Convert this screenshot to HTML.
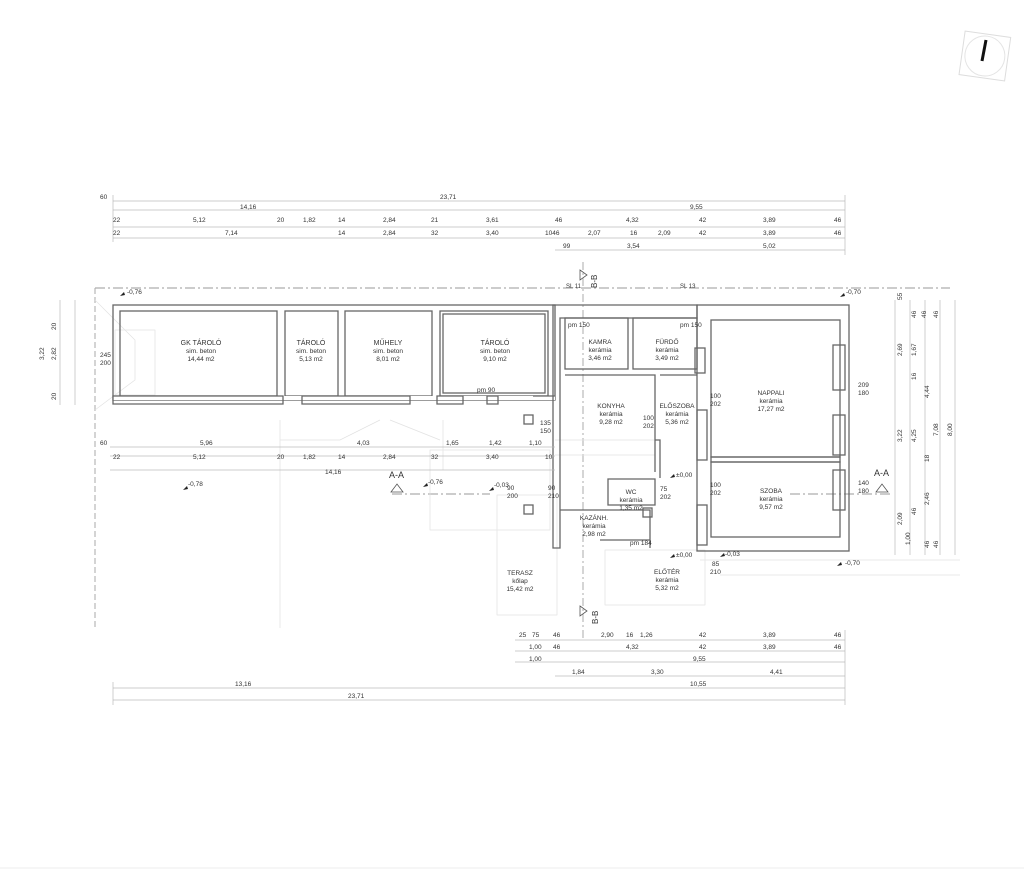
<!DOCTYPE html>
<html><head><meta charset="utf-8"><style>
html,body{margin:0;padding:0;background:#fff}
svg{display:block}
text{font-family:"Liberation Sans",sans-serif;fill:#333;font-size:6.5px}
.c{text-anchor:middle}
.dim{stroke:#bbb;stroke-width:.7}
.w{fill:none;stroke:#666;stroke-width:1.3}
.f{fill:none;stroke:#e2e2e2;stroke-width:.7}
.dd{stroke:#777;stroke-width:.8;stroke-dasharray:10 3 2 3;fill:none}
</style></head><body>
<svg width="1024" height="871" viewBox="0 0 1024 871" xmlns="http://www.w3.org/2000/svg">
<rect width="1024" height="871" fill="#fff"/>
<line x1="0" y1="868" x2="1024" y2="868" stroke="#eee"/>
<!-- north -->
<g transform="rotate(8 985 55)"><rect x="962" y="34" width="46" height="44" fill="none" stroke="#ddd"/><circle cx="985" cy="56" r="20" fill="none" stroke="#e4e4e4"/></g>
<line x1="986" y1="40" x2="982" y2="61" stroke="#111" stroke-width="3"/>

<!-- top dims -->
<g class="dim">
<line x1="113" y1="201" x2="845" y2="201"/><line x1="113" y1="210" x2="845" y2="210"/>
<line x1="113" y1="227" x2="845" y2="227"/><line x1="113" y1="238" x2="845" y2="238"/>
<line x1="555" y1="250" x2="845" y2="250"/>
<line x1="845" y1="195" x2="845" y2="255"/><line x1="113" y1="195" x2="113" y2="242"/>
</g>
<text x="100" y="199">60</text><text x="440" y="199">23,71</text>
<text x="240" y="209">14,16</text><text x="690" y="209">9,55</text>
<g>
<text x="113" y="222">22</text><text x="193" y="222">5,12</text><text x="277" y="222">20</text><text x="303" y="222">1,82</text><text x="338" y="222">14</text><text x="383" y="222">2,84</text><text x="431" y="222">21</text><text x="486" y="222">3,61</text><text x="555" y="222">46</text><text x="626" y="222">4,32</text><text x="699" y="222">42</text><text x="763" y="222">3,89</text><text x="834" y="222">46</text>
<text x="113" y="235">22</text><text x="225" y="235">7,14</text><text x="338" y="235">14</text><text x="383" y="235">2,84</text><text x="431" y="235">32</text><text x="486" y="235">3,40</text><text x="545" y="235">1046</text><text x="588" y="235">2,07</text><text x="630" y="235">16</text><text x="658" y="235">2,09</text><text x="699" y="235">42</text><text x="763" y="235">3,89</text><text x="834" y="235">46</text>
<text x="563" y="248">99</text><text x="627" y="248">3,54</text><text x="763" y="248">5,02</text>
</g>

<!-- site line -->
<path class="dd" d="M95 288H950"/>
<path d="M95 288V628" stroke="#aaa" stroke-width="1" stroke-dasharray="6 3"/>
<text x="127" y="294">-0,76</text><text x="846" y="294">-0,70</text>
<path d="M120 296l4-4 1 3z M840 297l4-4 1 3z M183 490l4-4 1 3z M423 487l4-4 1 3z M489 491l4-4 1 3z M670 478l4-4 1 3z M670 558l4-4 1 3z M720 557l4-4 1 3z M837 566l4-4 1 3z" fill="#222"/>

<!-- section markers -->
<text x="580" y="285" style="font-size:8px" transform="rotate(-90 590 278)">B-B</text>
<path d="M580 270l7 5-7 5z" fill="none" stroke="#555" stroke-width=".8"/>
<path d="M583 262V640" stroke="#888" stroke-width=".7" stroke-dasharray="8 3 2 3"/>
<path d="M580 606l7 5-7 5z" fill="none" stroke="#555" stroke-width=".8"/>
<text x="580" y="618" style="font-size:8px" transform="rotate(-90 592 612)">B-B</text>
<text x="389" y="478" style="font-size:9px">A-A</text><path d="M391 492h12l-6-8z" fill="none" stroke="#555" stroke-width=".8"/>
<text x="874" y="476" style="font-size:9px">A-A</text><path d="M876 492h12l-6-8z" fill="none" stroke="#555" stroke-width=".8"/>
<path class="dd" d="M392 494H490 M790 494H890" stroke="#999"/>
<text x="566" y="288" style="font-size:6px">SL 11</text><text x="680" y="288" style="font-size:6px">SL 13</text>

<!-- faint lines -->
<g class="f">
<path d="M280 420V628 M443 420V470"/><rect x="430" y="450" width="120" height="80"/>
<rect x="497" y="495" width="60" height="120"/><rect x="605" y="550" width="100" height="55"/>
<path d="M95 300L135 340V380L95 410 M280 440L340 440L380 420 M390 420L440 440" />
<rect x="115" y="330" width="40" height="65"/>
<path d="M555 440H655 M555 455H655 M700 560H960 M720 575H960"/>
</g>

<!-- storage block walls -->
<g class="w">
<rect x="113" y="305" width="442" height="95"/>
<rect x="120" y="311" width="157" height="85"/>
<rect x="285" y="311" width="53" height="85"/>
<rect x="345" y="311" width="87" height="85"/>
<rect x="440" y="311" width="108" height="85"/>
<rect x="443" y="314" width="102" height="79"/>
</g>
<rect x="113" y="396" width="442" height="4" fill="#fff"/>
<g class="w">
<path d="M113 396H283V404H113Z M302 396H410V404H302Z M437 396H463V404H437Z M487 396H498V404H487Z M533 396H555"/>
</g>

<!-- house -->
<g class="w">
<path d="M553 305H697V318H560V548H553Z"/>
<rect x="565" y="318" width="63" height="51"/>
<rect x="633" y="318" width="64" height="51"/>
<path d="M565 375H655V472 M660 375H697 M655 440H660V478 M608 479H655V505H608Z M560 510H650V548 M600 540H650"/>
<rect x="697" y="305" width="152" height="246"/>
<rect x="711" y="320" width="129" height="137"/>
<rect x="711" y="462" width="129" height="75"/>
<path d="M711 457H840V462H711Z"/>
<rect x="695" y="348" width="10" height="25"/><rect x="697" y="410" width="10" height="50"/><rect x="697" y="505" width="10" height="40"/>
<rect x="833" y="345" width="12" height="45"/><rect x="833" y="415" width="12" height="40"/><rect x="833" y="470" width="12" height="40"/>
<rect x="643" y="508" width="9" height="9"/>
<rect x="524" y="415" width="9" height="9"/><rect x="524" y="505" width="9" height="9"/>
</g>

<!-- room labels -->
<g class="c">
<text x="201" y="345" style="font-size:7px">GK TÁROLÓ</text><text x="201" y="353">sim. beton</text><text x="201" y="361">14,44 m2</text>
<text x="311" y="345" style="font-size:7px">TÁROLÓ</text><text x="311" y="353">sim. beton</text><text x="311" y="361">5,13 m2</text>
<text x="388" y="345" style="font-size:7px">MŰHELY</text><text x="388" y="353">sim. beton</text><text x="388" y="361">8,01 m2</text>
<text x="495" y="345" style="font-size:7px">TÁROLÓ</text><text x="495" y="353">sim. beton</text><text x="495" y="361">9,10 m2</text>
<text x="600" y="344">KAMRA</text><text x="600" y="352">kerámia</text><text x="600" y="360">3,46 m2</text>
<text x="667" y="344">FÜRDŐ</text><text x="667" y="352">kerámia</text><text x="667" y="360">3,49 m2</text>
<text x="611" y="408">KONYHA</text><text x="611" y="416">kerámia</text><text x="611" y="424">9,28 m2</text>
<text x="677" y="408">ELŐSZOBA</text><text x="677" y="416">kerámia</text><text x="677" y="424">5,36 m2</text>
<text x="771" y="395">NAPPALI</text><text x="771" y="403">kerámia</text><text x="771" y="411">17,27 m2</text>
<text x="771" y="493">SZOBA</text><text x="771" y="501">kerámia</text><text x="771" y="509">9,57 m2</text>
<text x="631" y="494">WC</text><text x="631" y="502">kerámia</text><text x="631" y="510">1,35 m2</text>
<text x="594" y="520">KAZÁNH.</text><text x="594" y="528">kerámia</text><text x="594" y="536">2,98 m2</text>
<text x="667" y="574">ELŐTÉR</text><text x="667" y="582">kerámia</text><text x="667" y="590">5,32 m2</text>
<text x="520" y="575">TERASZ</text><text x="520" y="583">kőlap</text><text x="520" y="591">15,42 m2</text>
</g>
<text x="568" y="327">pm 150</text><text x="680" y="327">pm 150</text><text x="477" y="392">pm 90</text><text x="630" y="545">pm 184</text>
<text x="100" y="357">245</text><text x="100" y="365">200</text>
<text x="710" y="398">100</text><text x="710" y="406">202</text><text x="643" y="420">100</text><text x="643" y="428">202</text>
<text x="710" y="487">100</text><text x="710" y="495">202</text><text x="858" y="387">209</text><text x="858" y="395">180</text>
<text x="858" y="485">140</text><text x="858" y="493">180</text>
<text x="540" y="425">135</text><text x="540" y="433">150</text>
<text x="507" y="490">90</text><text x="507" y="498">200</text><text x="548" y="490">90</text><text x="548" y="498">210</text>
<text x="660" y="491">75</text><text x="660" y="499">202</text><text x="712" y="566">85</text><text x="710" y="574">210</text>
<text x="676" y="477">±0,00</text><text x="676" y="557">±0,00</text><text x="725" y="556">-0,03</text><text x="845" y="565">-0,70</text>
<text x="188" y="486">-0,78</text><text x="428" y="484">-0,76</text><text x="494" y="487">-0,03</text>

<!-- left middle dims -->
<g class="dim"><line x1="110" y1="447" x2="555" y2="447"/><line x1="110" y1="456" x2="555" y2="456"/><line x1="110" y1="470" x2="555" y2="470"/></g>
<text x="100" y="445">60</text><text x="200" y="445">5,96</text><text x="357" y="445">4,03</text><text x="446" y="445">1,65</text><text x="489" y="445">1,42</text><text x="529" y="445">1,10</text>
<text x="113" y="459">22</text><text x="193" y="459">5,12</text><text x="277" y="459">20</text><text x="303" y="459">1,82</text><text x="338" y="459">14</text><text x="383" y="459">2,84</text><text x="431" y="459">32</text><text x="486" y="459">3,40</text><text x="545" y="459">10</text>
<text x="325" y="474">14,16</text>

<!-- left vertical dims -->
<g class="dim"><line x1="60" y1="300" x2="60" y2="405"/><line x1="75" y1="300" x2="75" y2="405"/></g>
<text transform="translate(56 330) rotate(-90)">20</text><text transform="translate(44 360) rotate(-90)">3,22</text><text transform="translate(56 360) rotate(-90)">2,82</text><text transform="translate(56 400) rotate(-90)">20</text>

<!-- right vertical dims -->
<g class="dim"><line x1="895" y1="300" x2="895" y2="555"/><line x1="910" y1="300" x2="910" y2="555"/><line x1="925" y1="300" x2="925" y2="555"/><line x1="940" y1="300" x2="940" y2="555"/><line x1="955" y1="300" x2="955" y2="555"/></g>
<g>
<text transform="translate(902 300) rotate(-90)">55</text><text transform="translate(916 318) rotate(-90)">46</text><text transform="translate(926 318) rotate(-90)">46</text><text transform="translate(938 318) rotate(-90)">46</text>
<text transform="translate(902 356) rotate(-90)">2,69</text><text transform="translate(916 356) rotate(-90)">1,67</text><text transform="translate(916 380) rotate(-90)">16</text><text transform="translate(929 398) rotate(-90)">4,44</text>
<text transform="translate(902 442) rotate(-90)">3,22</text><text transform="translate(916 442) rotate(-90)">4,25</text><text transform="translate(938 436) rotate(-90)">7,08</text><text transform="translate(952 436) rotate(-90)">8,00</text><text transform="translate(929 462) rotate(-90)">18</text>
<text transform="translate(902 525) rotate(-90)">2,09</text><text transform="translate(916 515) rotate(-90)">46</text><text transform="translate(929 505) rotate(-90)">2,46</text><text transform="translate(910 545) rotate(-90)">1,00</text><text transform="translate(929 548) rotate(-90)">46</text><text transform="translate(938 548) rotate(-90)">46</text>
</g>

<!-- bottom dims -->
<g class="dim">
<line x1="515" y1="640" x2="845" y2="640"/><line x1="515" y1="651" x2="845" y2="651"/><line x1="515" y1="662" x2="845" y2="662"/><line x1="555" y1="676" x2="845" y2="676"/>
<line x1="113" y1="688" x2="845" y2="688"/><line x1="113" y1="700" x2="845" y2="700"/>
<line x1="113" y1="682" x2="113" y2="705"/><line x1="845" y1="630" x2="845" y2="705"/>
</g>
<text x="519" y="637">25</text><text x="532" y="637">75</text><text x="553" y="637">46</text><text x="601" y="637">2,90</text><text x="626" y="637">16</text><text x="640" y="637">1,26</text><text x="699" y="637">42</text><text x="763" y="637">3,89</text><text x="834" y="637">46</text>
<text x="529" y="649">1,00</text><text x="553" y="649">46</text><text x="626" y="649">4,32</text><text x="699" y="649">42</text><text x="763" y="649">3,89</text><text x="834" y="649">46</text>
<text x="529" y="661">1,00</text><text x="693" y="661">9,55</text>
<text x="572" y="674">1,84</text><text x="651" y="674">3,30</text><text x="770" y="674">4,41</text>
<text x="235" y="686">13,16</text><text x="690" y="686">10,55</text><text x="348" y="698">23,71</text>
</svg>
</body></html>
